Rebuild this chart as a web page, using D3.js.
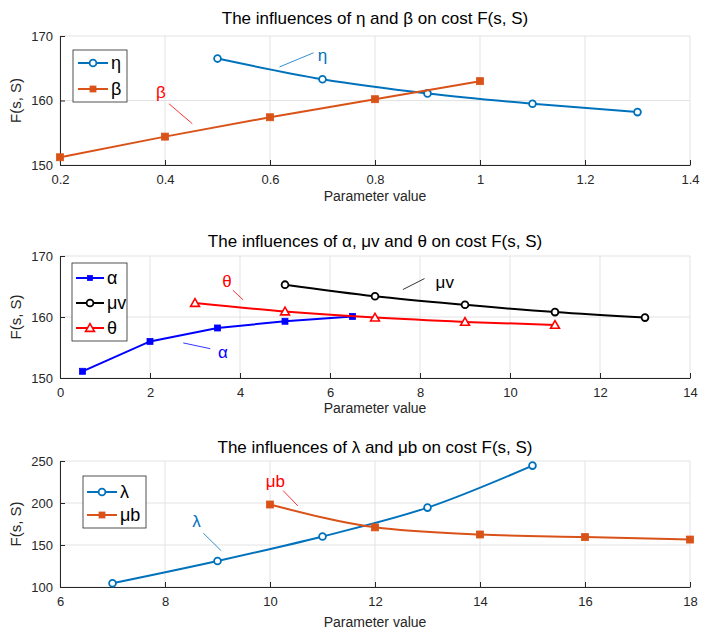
<!DOCTYPE html>
<html><head><meta charset="utf-8">
<script src="https://cdn.jsdelivr.net/npm/d3@7"></script>
<style>body{margin:0;background:#fff}svg{display:block}text{font-family:"Liberation Sans",Arial,sans-serif}</style>
</head><body>
<svg id="c" width="701" height="632"></svg>
<script>
// Panel 1
const etaX = [0.5, 0.7, 0.9, 1.1, 1.3];
const etaY = [166.5, 163.3, 161.1, 159.5, 158.2];
const betaX = [0.2, 0.4, 0.6, 0.8, 1.0];
const betaY = [151.2, 154.4, 157.4, 160.2, 163.0];
const xTicks1 = [0.2, 0.4, 0.6, 0.8, 1, 1.2, 1.4];
const yTicks1 = [150, 160, 170];
// Panel 2
const alphaX = [0.5, 2, 3.5, 5, 6.5];
const alphaY = [151.1, 156.0, 158.2, 159.3, 160.1];
const muvX = [5, 7, 9, 11, 13];
const muvY = [165.3, 163.4, 162.0, 160.8, 159.9];
const thetaX = [3, 5, 7, 9, 11];
const thetaY = [162.3, 160.9, 159.9, 159.2, 158.7];
const xTicks2 = [0, 2, 4, 6, 8, 10, 12, 14];
const yTicks2 = [150, 160, 170];
// Panel 3
const lambdaX = [7, 9, 11, 13, 15];
const lambdaY = [104.5, 131, 160.2, 194.5, 244.5];
const mubX = [10, 12, 14, 16, 18];
const mubY = [198.2, 171, 162.5, 159.4, 156.5];
const xTicks3 = [6, 8, 10, 12, 14, 16, 18];
const yTicks3 = [100, 150, 200, 250];

const svg = d3.select("#c");
const AX = "#262626", GRID = "#e3e3e3";

function marker(g, type, x, y, color, size) {
  if (type === "circle") {
    g.append("circle").attr("cx", x).attr("cy", y).attr("r", 3.4)
      .attr("fill", "#fff").attr("stroke", color).attr("stroke-width", 1.8);
  } else if (type === "square") {
    const s = size || 7;
    g.append("rect").attr("x", x - s/2).attr("y", y - s/2).attr("width", s).attr("height", s)
      .attr("fill", color).attr("stroke", color).attr("stroke-width", 0.8);
  } else if (type === "tri") {
    g.append("path").attr("d", d3.symbol(d3.symbolTriangle, 34)()).attr("transform", `translate(${x},${y+0.8})`)
      .attr("fill", "#fff").attr("stroke", color).attr("stroke-width", 1.6);
  }
}

function panel(cfg) {
  const x = d3.scaleLinear().domain(cfg.xd).range([60, 690]);
  const y = d3.scaleLinear().domain(cfg.yd).range([cfg.bottom, cfg.top]);
  const g = svg.append("g");
  g.selectAll(".gx").data(cfg.xt).join("line").attr("x1", d => x(d)).attr("x2", d => x(d))
    .attr("y1", cfg.top).attr("y2", cfg.bottom).attr("stroke", GRID).attr("stroke-width", 1);
  g.selectAll(".gy").data(cfg.yt).join("line").attr("y1", d => y(d)).attr("y2", d => y(d))
    .attr("x1", 60).attr("x2", 690).attr("stroke", GRID).attr("stroke-width", 1);
  const xa = g.append("g").attr("transform", `translate(0,${cfg.bottom})`)
    .call(d3.axisBottom(x).tickValues(cfg.xt).tickSizeInner(-5).tickSizeOuter(0).tickPadding(10).tickFormat(d => String(d)));
  const ya = g.append("g").attr("transform", `translate(60,0)`)
    .call(d3.axisLeft(y).tickValues(cfg.yt).tickSizeInner(-5).tickSizeOuter(0).tickPadding(7));
  [xa, ya].forEach(a => {
    a.select(".domain").attr("stroke", AX).attr("stroke-width", 1);
    a.selectAll(".tick line").attr("stroke", AX);
    a.selectAll(".tick text").attr("fill", AX).style("font-size", "13px")
      .style("font-family", '"Liberation Sans",Arial,sans-serif');
  });
  g.append("text").attr("x", 375).attr("y", cfg.titleY).attr("text-anchor", "middle")
    .attr("fill", "#000").style("font-size", "17px").text(cfg.title);
  g.append("text").attr("x", 375).attr("y", cfg.xlabY).attr("text-anchor", "middle")
    .attr("fill", AX).style("font-size", "14px").text("Parameter value");
  g.append("text").attr("transform", `translate(21,${(cfg.top+cfg.bottom)/2}) rotate(-90)`)
    .attr("text-anchor", "middle").attr("fill", AX).style("font-size", "15px").text("F(s, S)");
  cfg.series.forEach(s => {
    const line = d3.line().x(d => x(d[0])).y(d => y(d[1])).curve(s.linear ? d3.curveLinear : d3.curveMonotoneX);
    const pts = s.xs.map((v, i) => [v, s.ys[i]]);
    g.append("path").datum(pts).attr("d", line).attr("fill", "none")
      .attr("stroke", s.color).attr("stroke-width", 2);
    pts.forEach(p => marker(g, s.m, x(p[0]), y(p[1]), s.color, s.size));
  });
  cfg.notes.forEach(n => {
    g.append("line").attr("x1", x(n.l[0])).attr("y1", y(n.l[1])).attr("x2", x(n.l[2])).attr("y2", y(n.l[3]))
      .attr("stroke", n.color).attr("stroke-width", 0.8);
    g.append("text").attr("x", x(n.t[0])).attr("y", y(n.t[1])).attr("dy", "0.35em").attr("text-anchor", "middle")
      .attr("fill", n.color).style("font-size", "17px").text(n.label);
  });
  const L = cfg.legend;
  g.append("rect").attr("x", L.x0).attr("y", L.y0).attr("width", L.x1 - L.x0).attr("height", L.y1 - L.y0)
    .attr("fill", "#fff").attr("stroke", AX).attr("stroke-width", 0.8);
  cfg.series.forEach((s, i) => {
    const yy = L.rows[i];
    g.append("line").attr("x1", L.lx0).attr("x2", L.lx1).attr("y1", yy).attr("y2", yy)
      .attr("stroke", s.color).attr("stroke-width", 2);
    marker(g, s.m, (L.lx0 + L.lx1) / 2, yy, s.color, s.size ? s.size - 1 : 6);
    g.append("text").attr("x", L.lx1 + 3).attr("y", yy).attr("dy", "0.35em").attr("fill", "#000")
      .style("font-size", "18px").text(s.name);
  });
}

panel({
  xd: [0.2, 1.4], yd: [150, 170], top: 36, bottom: 165, xt: xTicks1, yt: yTicks1,
  title: "The influences of η and β on cost F(s, S)", titleY: 24, xlabY: 201,
  series: [
    {name: "η", xs: etaX, ys: etaY, color: "#0072BD", m: "circle"},
    {name: "β", xs: betaX, ys: betaY, color: "#D95319", m: "square", size: 7}
  ],
  notes: [
    {label: "η", color: "#0072BD", t: [0.70, 167.0], l: [0.618, 165.2, 0.683, 167.4]},
    {label: "β", color: "#FF0000", t: [0.392, 161.3], l: [0.4075, 159.5, 0.452, 156.4]}
  ],
  legend: {x0: 73, x1: 127, y0: 50, y1: 102, lx0: 78, lx1: 108, rows: [63, 89]}
});

panel({
  xd: [0, 14], yd: [150, 170], top: 256, bottom: 378, xt: xTicks2, yt: yTicks2,
  title: "The influences of α, μv and θ on cost F(s, S)", titleY: 247, xlabY: 413,
  series: [
    {name: "α", xs: alphaX, ys: alphaY, color: "#0000FF", m: "square", size: 6, linear: true},
    {name: "μv", xs: muvX, ys: muvY, color: "#000000", m: "circle"},
    {name: "θ", xs: thetaX, ys: thetaY, color: "#FF0000", m: "tri"}
  ],
  notes: [
    {label: "θ", color: "#FF0000", t: [3.71, 165.9], l: [3.84, 164.4, 4.07, 162.8]},
    {label: "μv", color: "#000000", t: [8.55, 165.8], l: [7.62, 164.5, 8.10, 166.3]},
    {label: "α", color: "#0000FF", t: [3.62, 154.3], l: [2.74, 155.75, 3.34, 154.8]}
  ],
  legend: {x0: 72, x1: 127, y0: 263, y1: 341, lx0: 76, lx1: 104, rows: [278, 303, 328]}
});

panel({
  xd: [6, 18], yd: [100, 250], top: 461, bottom: 587, xt: xTicks3, yt: yTicks3,
  title: "The influences of λ and μb on cost F(s, S)", titleY: 453, xlabY: 627,
  series: [
    {name: "λ", xs: lambdaX, ys: lambdaY, color: "#0072BD", m: "circle"},
    {name: "μb", xs: mubX, ys: mubY, color: "#D95319", m: "square", size: 7}
  ],
  notes: [
    {label: "λ", color: "#0072BD", t: [8.60, 178], l: [8.73, 164.1, 9.07, 143.2]},
    {label: "μb", color: "#FF0000", t: [10.1, 226.3], l: [10.25, 214.8, 10.53, 196.6]}
  ],
  legend: {x0: 83, x1: 146, y0: 476, y1: 528, lx0: 87, lx1: 117, rows: [492, 515]}
});
</script>
</body></html>
